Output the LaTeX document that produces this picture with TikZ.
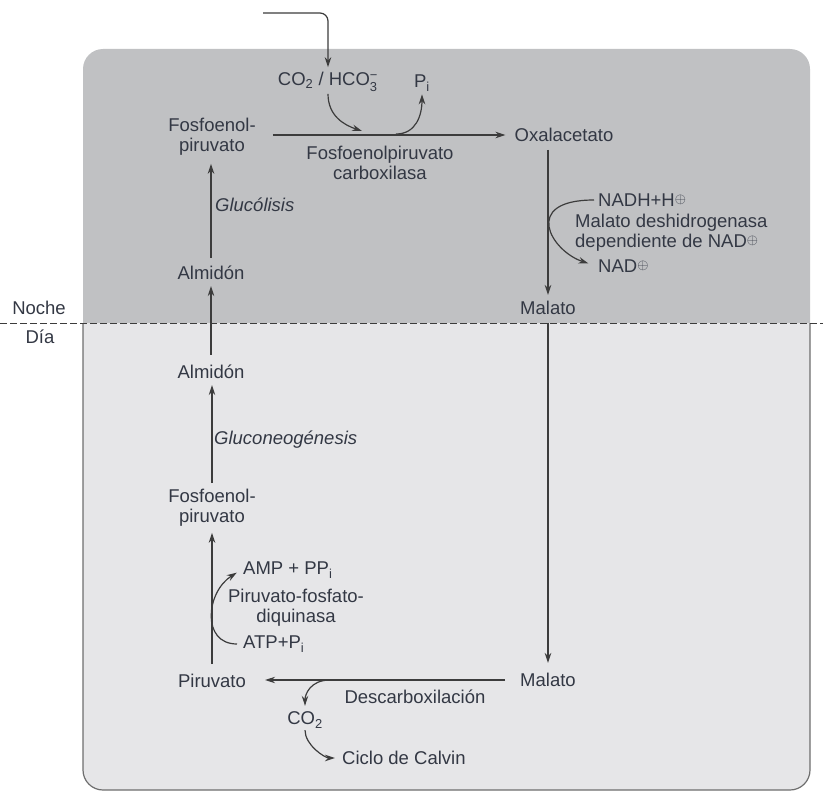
\documentclass[tikz,border=0pt]{standalone}
\usepackage{amsmath}
\usepackage{amssymb}
\usepackage{fontspec}
\setmainfont{Liberation Sans}
\usetikzlibrary{arrows.meta}
\definecolor{nightgray}{HTML}{C0C1C3}
\definecolor{daygray}{HTML}{E6E6E8}
\definecolor{framegray}{HTML}{6E6E6E}
\definecolor{linegray}{HTML}{3C3C3C}
\definecolor{txtgray}{HTML}{333844}
\newcommand{\chg}{{\fontsize{14}{14}\selectfont\raisebox{0.45ex}{$\oplus$}}}
\tikzset{flow/.style={draw=linegray, line width=1.2pt, ->}}
\begin{document}
\begin{tikzpicture}[x=1pt, y=-1pt, >={Stealth[length=10pt,width=6.5pt]},
  every node/.style={font=\fontsize{18.5}{20}\selectfont, text=txtgray, inner sep=2pt, align=center}]
  \useasboundingbox (0,0) rectangle (823,792);
  \fill [nightgray, rounded corners=20] (83,49) rectangle (810,345);
  \filldraw [fill=daygray, draw=framegray, line width=1.2pt, rounded corners=20] (83,323) -- (83,790) -- (810,790) -- (810,323);
  \draw [linegray, line width=1pt, dash pattern=on 6.5pt off 3.5pt] (0,323) -- (823,323);

  \node (nocheN) at (39,308) {Noche};
  \node (diaN) at (40,337) {Día};

  % noche
  \node (co2N) at (328,82) {CO\textsubscript{2} / HCO$_{\text{3}}^{\text{−}}$};
  \node (piN) at (422,83) {P\textsubscript{i}};
  \node (pepN) at (212,137) {Fosfoenol-\\piruvato};
  \node (oxaN) at (564,135) {Oxalacetato};
  \node (pepcN) at (380,163) {Fosfoenolpiruvato\\carboxilasa};
  \node [anchor=west] (glucN) at (213,205) {\itshape Glucólisis};
  \node (almN) at (211,273) {Almidón};
  \node [anchor=west] (nadhN) at (596,200) {NADH+H\chg};
  \node [anchor=west, align=left] (mdhN) at (573,233) {Malato deshidrogenasa\\dependiente de NAD\chg};
  \node [anchor=west] (nadN) at (596,266) {NAD\chg};
  \node (malN) at (548,308) {Malato};

  % dia
  \node (almdN) at (211,372) {Almidón};
  \node [anchor=west] (gngN) at (212,440) {\itshape Gluconeogénesis};
  \node (pepdN) at (212,508) {Fosfoenol-\\piruvato};
  \node [anchor=west] (ampN) at (241,570) {AMP + PP\textsubscript{i}};
  \node (ppdkN) at (296,608) {Piruvato-fosfato-\\diquinasa};
  \node [anchor=west] (atpN) at (241,644) {ATP+P\textsubscript{i}};
  \node (piruN) at (212,681) {Piruvato};
  \node (malbN) at (548,680) {Malato};
  \node (descN) at (415,697) {Descarboxilación};
  \node (co2bN) at (305,720) {CO\textsubscript{2}};
  \node [anchor=west] (calvN) at (340,758) {Ciclo de Calvin};

  \coordinate (inS) at (263,13);
  \coordinate (co2in) at (362,131);
  \coordinate (piout) at (396,134);
  \coordinate (co2out) at (330,680);

  \draw [flow, rounded corners=8, shorten >=3pt] (inS) -| (co2N.north);
  \draw [flow, shorten <=15pt, shorten >=7pt] (pepN.east |- oxaN) -- (oxaN.west);
  \draw [flow] (co2N.south) .. controls +(0,22) and +(-18,-6) .. (co2in);
  \draw [flow, shorten >=1pt] (piout) .. controls +(20,0) and +(0,22) .. (piN.south);
  \draw [flow, shorten <=6pt, shorten >=6pt] (almN.north) -- (almN.north |- pepN.south);
  \draw [flow, shorten <=8pt, shorten >=4pt] (almdN.north) -- (almdN.north |- almN.south);
  \draw [flow, shorten <=4pt, shorten >=4pt] (pepdN.north) -- (pepdN.north |- almdN.south);
  \draw [flow, shorten <=8pt, shorten >=4pt] (piruN.north) -- (piruN.north |- pepdN.south);
  \draw [flow, shorten <=4pt, shorten >=5pt] (atpN.west) .. controls +(-40,0) and +(-35,22) .. (ampN.west);

  \draw [flow, shorten <=6pt, shorten >=4pt] (malN.north |- oxaN.south) -- (malN.north);
  \draw [flow, shorten <=2pt, shorten >=8pt] (nadhN.west) .. controls +(-75,0) and +(-45,-15) .. (nadN.west);
  \draw [flow, shorten <=6pt, shorten >=8pt] (malN.south) -- (malN.south |- malbN.north);
  \draw [flow, shorten <=13pt, shorten >=17pt] (malbN.west) -- (malbN.west -| piruN.east);
  \draw [flow, shorten >=4pt] (co2out) .. controls +(-20,0) and +(0,-15) .. (co2bN.north);
  \draw [flow, shorten >=5pt] (co2bN.south) .. controls +(0,15) and +(-15,0) .. (calvN.west);
\end{tikzpicture}
\end{document}
